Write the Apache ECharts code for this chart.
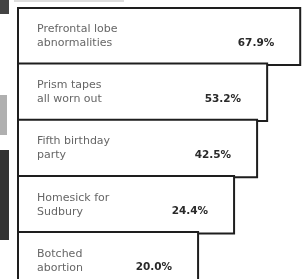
<!DOCTYPE html>
<html>
<head>
<meta charset="utf-8">
<script src="https://cdn.jsdelivr.net/npm/echarts@6/dist/echarts.min.js"></script>
<style>
html,body{margin:0;padding:0;background:#fff;}
#chart{width:302px;height:279px;}
</style>
</head>
<body>
<div id="chart"></div>
<script>
// Categories, top to bottom
var categories = [
  'Prefrontal lobe\nabnormalities',
  'Prism tapes\nall worn out',
  'Fifth birthday\nparty',
  'Homesick for\nSudbury',
  'Botched\nabortion'
];
// Printed percentages
var percentValues = [67.9, 53.2, 42.5, 24.4, 20.0];
// Bar lengths as drawn in the picture (the original is not to scale)
var barLengths = [67.9, 60.0, 57.6, 52.1, 43.5];

var chart = echarts.init(document.getElementById('chart'), null, {renderer: 'canvas'});
var seriesData = barLengths.map(function (v, i) {
  return {value: v, pct: percentValues[i]};
});
chart.setOption({
  animation: false,
  backgroundColor: '#ffffff',
  grid: {left: 17, top: 8, width: 293, height: 281, containLabel: false, outerBoundsMode: 'none'},
  xAxis: {
    type: 'value', min: 0, max: 70, show: false
  },
  yAxis: {
    type: 'category',
    data: categories,
    inverse: true,
    axisLine: {show: false},
    axisTick: {show: false},
    splitLine: {show: false},
    axisLabel: {
      inside: true,
      margin: 20,
      color: '#666666',
      fontFamily: 'DejaVu Sans',
      fontSize: 11,
      lineHeight: 14,
      padding: [8, 0, 0, 0]
    },
    z: 5
  },
  series: [{
    type: 'bar',
    data: seriesData,
    barWidth: '106%',
    itemStyle: {color: '#ffffff', borderColor: '#1e1e1e', borderWidth: 2},
    label: {
      show: true,
      position: 'insideRight',
      offset: [-22, 7],
      formatter: function (p) { return p.data.pct.toFixed(1) + '%'; },
      color: '#2a2a2a',
      fontFamily: 'DejaVu Sans',
      fontWeight: 'bold',
      fontSize: 10.5
    }
  }],
  graphic: [
    {type: 'rect', shape: {x: 0, y: 0, width: 9, height: 14}, style: {fill: '#444'}, silent: true},
    {type: 'rect', shape: {x: 0, y: 95, width: 7, height: 40}, style: {fill: '#b0b0b0'}, silent: true},
    {type: 'rect', shape: {x: 0, y: 150, width: 9, height: 90}, style: {fill: '#333'}, silent: true},
    {type: 'rect', shape: {x: 14, y: 0, width: 110, height: 2}, style: {fill: '#dddddd'}, silent: true}
  ]
});
</script>
</body>
</html>
